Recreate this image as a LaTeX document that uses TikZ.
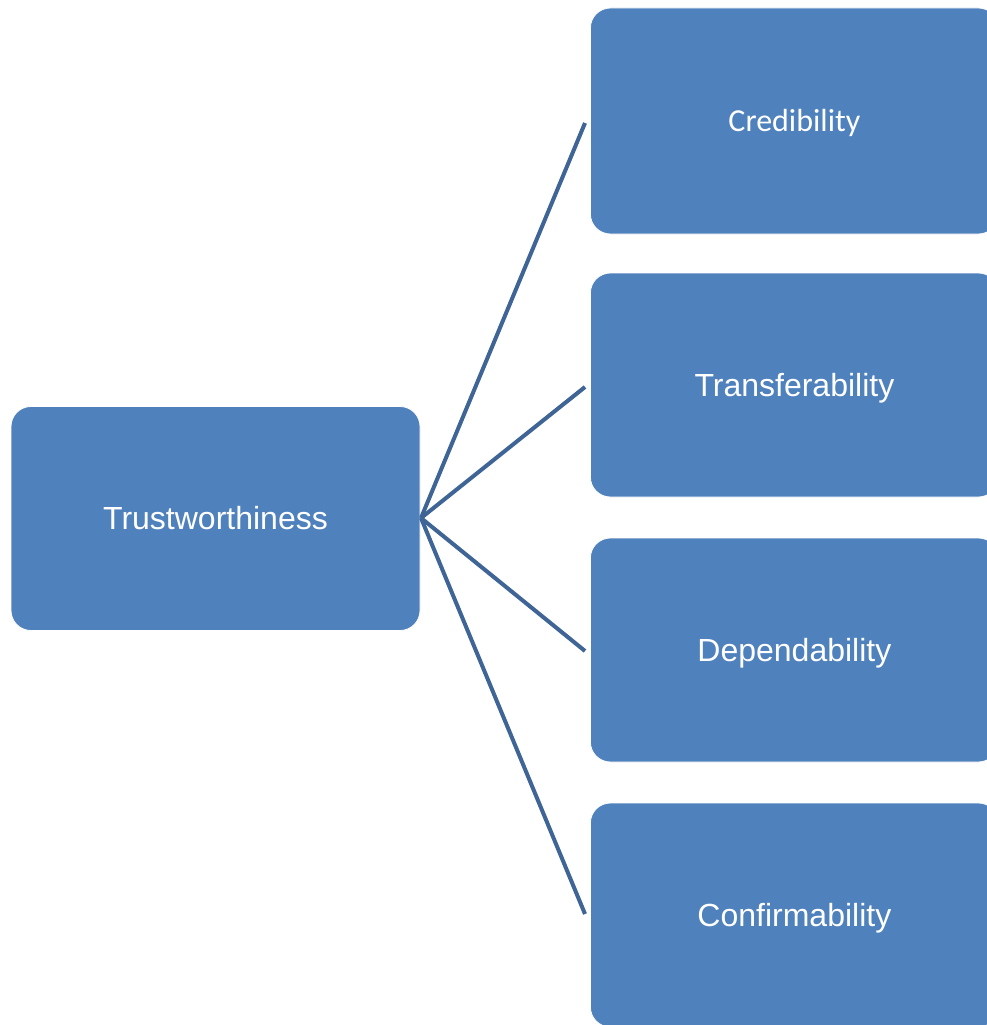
\documentclass[tikz,border=0pt]{standalone}
\usepackage{fontspec}
\setmainfont{Liberation Sans}
\newfontfamily\calib{Carlito}
\definecolor{boxblue}{HTML}{4F81BD}
\definecolor{linkblue}{HTML}{3E6596}
\newcommand{\dropit}[2]{\raisebox{-#1}[\height][\depth]{#2}}
\begin{document}
\begin{tikzpicture}[x=1pt,y=-1pt,
  box/.style={fill=boxblue,draw=white,line width=0.8pt,rounded corners=20pt,text=white,
    font=\fontsize{32}{38}\selectfont,inner sep=0pt},
  rbox/.style={box,minimum width=408pt,minimum height=224pt,anchor=west},
  link/.style={draw=linkblue,line width=4pt}]
\useasboundingbox (0,0) rectangle (987,1025);
\fill[white] (0,0) rectangle (987,1025);
\node[box,minimum width=409pt,minimum height=224pt] (t) at (215.5,518.5) {Trustworthiness};
\node[rbox,minimum height=226pt] (c1) at (590,121) {\dropit{2pt}{\calib Credibility}};
\node[rbox] (c2) at (590,385) {\dropit{3.5pt}{Transferability}};
\node[rbox] (c3) at (590,650) {\dropit{3pt}{Dependability}};
\node[rbox] (c4) at (590,915) {\dropit{3pt}{Confirmability}};
\coordinate (h) at (421,518);
\coordinate (e1) at (585,123);
\coordinate (e2) at (585,387);
\coordinate (e3) at (585,651);
\coordinate (e4) at (585,914);
\draw[link] (h) -- (e1);
\draw[link] (h) -- (e2);
\draw[link] (h) -- (e3);
\draw[link] (h) -- (e4);
\end{tikzpicture}
\end{document}
